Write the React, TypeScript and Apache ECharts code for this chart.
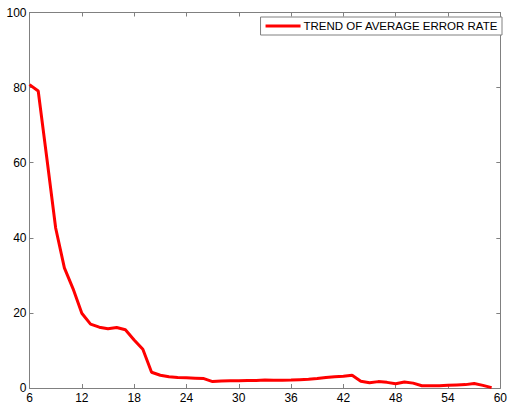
import React, { useEffect, useRef } from "react";
import * as echarts from "echarts";

const xValues = [6, 7, 8, 9, 10, 11, 12, 13, 14, 15, 16, 17, 18, 19, 20, 21, 22, 23, 24, 25, 26, 27, 28, 29, 30, 31, 32, 33, 34, 35, 36, 37, 38, 39, 40, 41, 42, 43, 44, 45, 46, 47, 48, 49, 50, 51, 52, 53, 54, 55, 56, 57, 58, 59];
const errorRate = [80.8, 79.1, 61, 42.6, 32, 26.4, 19.9, 17, 16.2, 15.8, 16.1, 15.5, 12.8, 10.3, 4.2, 3.4, 3.0, 2.8, 2.7, 2.6, 2.5, 1.7, 1.85, 1.9, 1.9, 2.0, 2.0, 2.1, 2.05, 2.05, 2.1, 2.2, 2.3, 2.5, 2.8, 3.0, 3.1, 3.4, 1.8, 1.4, 1.7, 1.5, 1.15, 1.6, 1.3, 0.6, 0.6, 0.6, 0.7, 0.8, 0.9, 1.2, 0.7, 0.1];
const seriesName = "TREND OF AVERAGE ERROR RATE";

const axisColor = "#808080";
const font = "Arial, 'Liberation Sans', sans-serif";

export default function App() {
  const ref = useRef<HTMLDivElement>(null);
  useEffect(() => {
    if (!ref.current) return;
    const chart = echarts.init(ref.current, null, { renderer: "svg" });
    const data = xValues.map((x, i) => [x, errorRate[i]]);
    const xBase = {
      type: "value" as const,
      min: 6,
      max: 60,
      interval: 6,
      axisLine: { show: true, onZero: false, lineStyle: { color: axisColor, width: 1 } },
      axisTick: { show: true, inside: true, length: 4, lineStyle: { color: axisColor } },
      splitLine: { show: false },
    };
    const yBase = {
      type: "value" as const,
      min: 0,
      max: 100,
      interval: 20,
      axisLine: { show: true, onZero: false, lineStyle: { color: axisColor, width: 1 } },
      axisTick: { show: true, inside: true, length: 4, lineStyle: { color: axisColor } },
      splitLine: { show: false },
    };
    chart.setOption({
      animation: false,
      backgroundColor: "#ffffff",
      grid: { left: 29.5, right: 2.5, top: 12.5, bottom: 18, containLabel: false },
      legend: {
        show: true,
        data: [seriesName],
        right: 8,
        top: 17,
        orient: "horizontal",
        icon: "rect",
        itemWidth: 35,
        itemHeight: 3,
        itemGap: 0,
        padding: [3, 4, 3, 5],
        borderColor: axisColor,
        borderWidth: 1,
        backgroundColor: "#ffffff",
        textStyle: { color: "#000", fontSize: 11.5, fontFamily: font, padding: [0, 0, 0, -2] },
      },
      xAxis: [
        {
          ...xBase,
          position: "bottom",
          axisLabel: { show: true, color: "#000", fontSize: 12, fontFamily: font, margin: 4 },
        },
        {
          ...xBase,
          position: "top",
          axisLabel: { show: false },
        },
      ],
      yAxis: [
        {
          ...yBase,
          position: "left",
          axisLabel: { show: true, color: "#000", fontSize: 12, fontFamily: font, margin: 3 },
        },
        {
          ...yBase,
          position: "right",
          axisLabel: { show: false },
        },
      ],
      series: [
        {
          name: seriesName,
          type: "line",
          data,
          xAxisIndex: 0,
          yAxisIndex: 0,
          showSymbol: false,
          symbol: "none",
          lineStyle: { color: "#ff0000", width: 3 },
          itemStyle: { color: "#ff0000" },
        },
      ],
    });
    return () => chart.dispose();
  }, []);
  return <div ref={ref} style={{ width: 510, height: 406, position: "absolute", left: 0, top: 0 }} />;
}
